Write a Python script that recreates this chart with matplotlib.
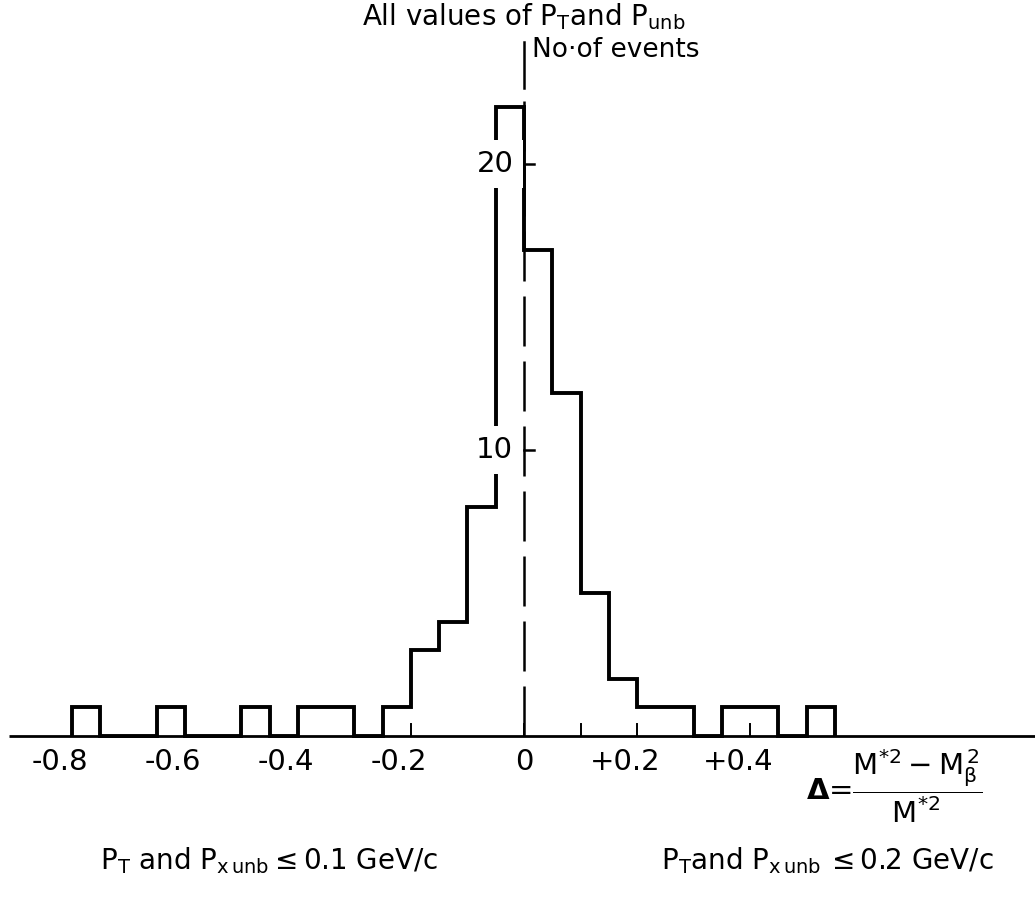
import numpy as np
import matplotlib
matplotlib.use("Agg")
import matplotlib.pyplot as plt

plt.rcParams['font.family'] = ['DejaVu Sans']
plt.rcParams['mathtext.fontset'] = 'dejavusans'
plt.rcParams['mathtext.default'] = 'regular'

# histogram of Delta, bins of 0.05 from -0.80 to +0.55
bin_lo, bin_hi = -0.80, 0.55
counts = [1, 0, 0, 1, 0, 0, 1, 0, 1, 1, 0, 1, 3, 4, 8, 22,
          17, 12, 5, 2, 1, 1, 0, 1, 1, 0, 1]

xtick_vals = [-0.8, -0.6, -0.4, -0.2, 0, 0.2, 0.4]
xtick_labels = ['-0.8', '-0.6', '-0.4', '-0.2', '0', '+0.2', '+0.4']
minor_marks = [-0.2, 0, 0.1, 0.2, 0.4]
ytick_vals = [10, 20]


def main():
    edges = np.linspace(bin_lo, bin_hi, len(counts) + 1)

    fig = plt.figure(figsize=(10.35, 8.99), dpi=100)
    ax = fig.add_axes([0, 0, 1, 1])
    ax.set_xlim(-0.927, 0.904)
    ax.set_ylim(-5.70, 25.73)
    ax.axis('off')

    # histogram outline
    ax.stairs(counts, edges, baseline=0, color='black', linewidth=2.8,
              zorder=2)

    # horizontal axis
    ax.plot([-0.911, 0.904], [0, 0], color='black', linewidth=2.0,
            solid_capstyle='butt', zorder=3)
    for xv in minor_marks:
        ax.plot([xv, xv], [0, 0.42], color='black', linewidth=1.4, zorder=3)
    for xv, lab in zip(xtick_vals, xtick_labels):
        dx = 0 if lab == '0' else -12
        ax.annotate(lab, xy=(xv, -0.9), xytext=(dx, 0),
                    textcoords='offset pixels', ha='center', va='center',
                    fontsize=21)

    # vertical reference at zero: solid top, dashed down to the axis
    ax.plot([0, 0], [24.25, 22.65], color='black', linewidth=1.8, zorder=4)
    ax.plot([0, 0], [22.2, 0], color='black', linewidth=1.8,
            dashes=(20, 6), zorder=4)
    for yv in ytick_vals:
        ax.plot([0, 0.017], [yv, yv], color='black', linewidth=1.8, zorder=4)
        ax.text(-0.019, yv, str(yv), ha='right', va='center', fontsize=21,
                zorder=3,
                bbox=dict(boxstyle='square,pad=0.35', fc='white', ec='none'))

    # headings
    ax.text(0.0, 25.15, r'All values of P$_\mathrm{T}$and P$_\mathrm{unb}$',
            ha='center', va='center', fontsize=20)
    ax.text(0.014, 23.98, 'No·of events', ha='left', va='center',
            fontsize=19)

    # definition of Delta
    ax.text(0.498, -1.75,
            r'$\mathbf{\Delta}$=$\dfrac{M^{*2}-M_\beta^{\,2}}{M^{*2}}$',
            ha='left', va='center', fontsize=21)

    # selection cuts
    ax.text(-0.45, -4.35,
            r'P$_\mathrm{T}$ and P$_\mathrm{x\,unb}$$\leq$0.1 GeV/c',
            ha='center', va='center', fontsize=20)
    ax.text(0.537, -4.35,
            r'P$_\mathrm{T}$and P$_\mathrm{x\,unb}$$\,\leq$0.2 GeV/c',
            ha='center', va='center', fontsize=20)

    fig.savefig('out.png', dpi=100, facecolor='white')


if __name__ == '__main__':
    main()
